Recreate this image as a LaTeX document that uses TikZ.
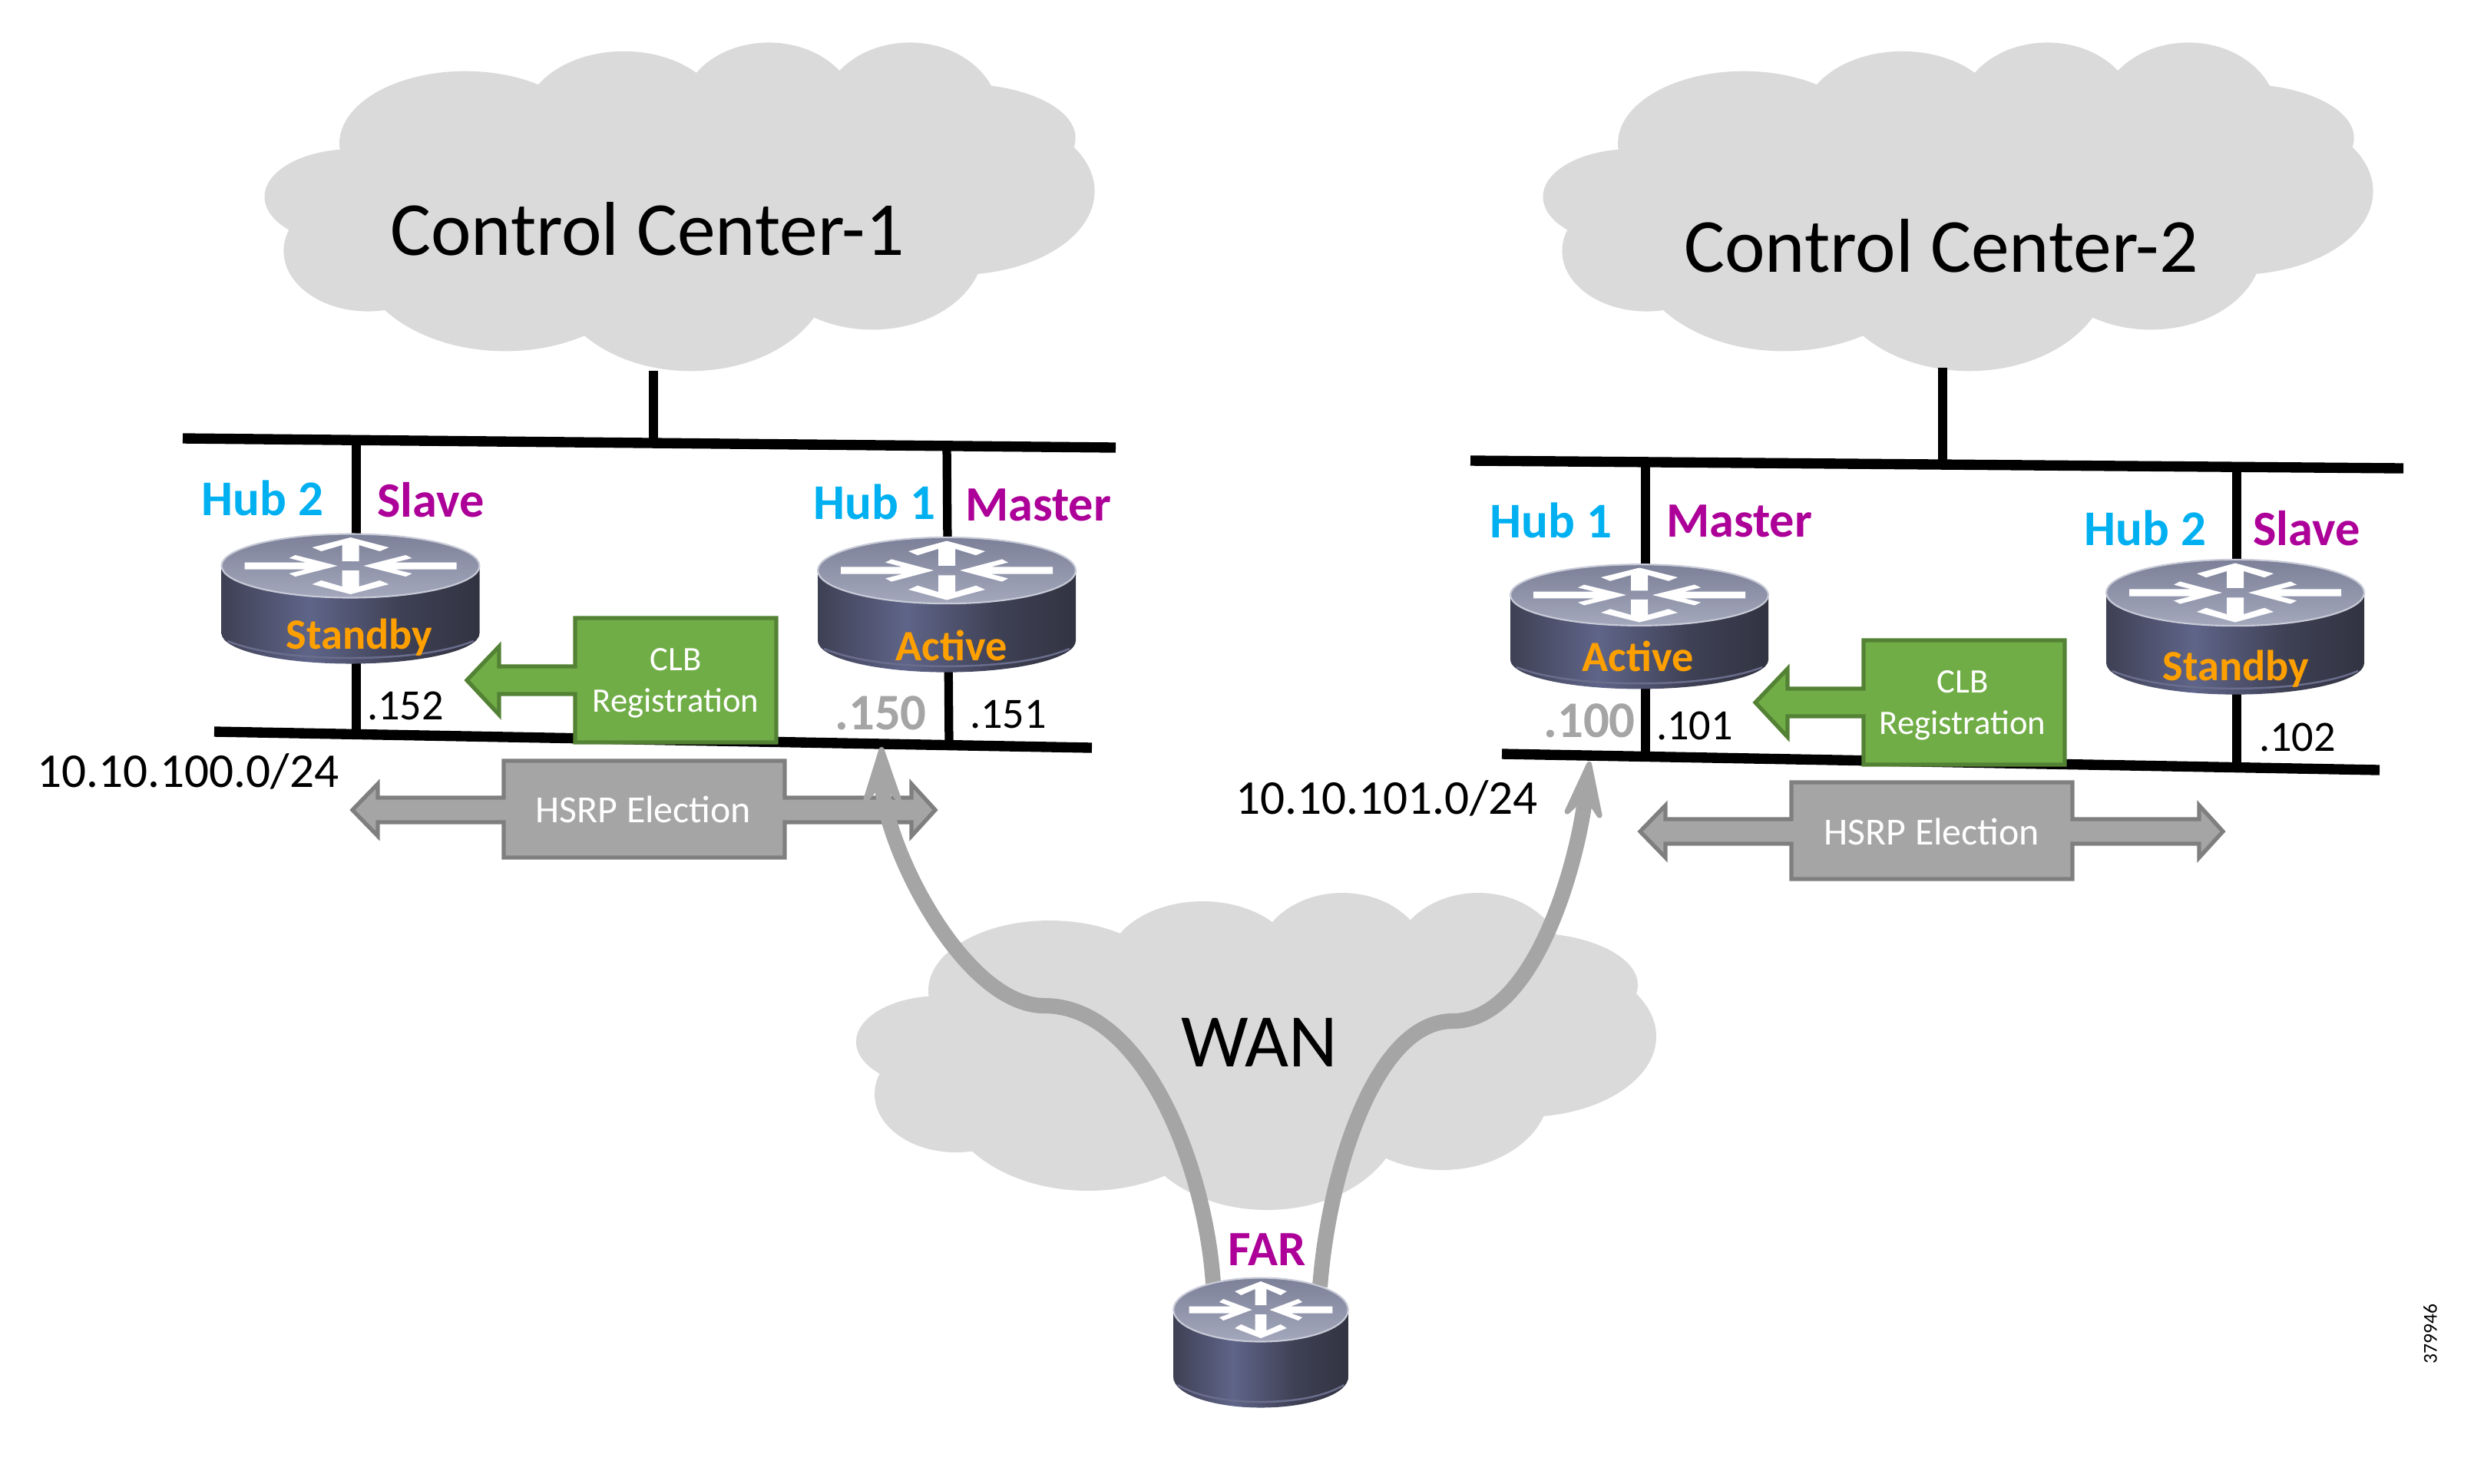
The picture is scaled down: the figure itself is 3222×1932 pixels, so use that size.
\documentclass[tikz,border=0pt]{standalone}
\usepackage{fontspec}
\setmainfont{Carlito}
\usetikzlibrary{arrows}
\usetikzlibrary{arrows.meta}
\definecolor{cloud_gray}{HTML}{DADADA}
\definecolor{hub_blue}{HTML}{00B0F0}
\definecolor{role_purple}{HTML}{AC0098}
\definecolor{state_orange}{HTML}{FFA000}
\definecolor{box_green}{HTML}{70AD47}
\definecolor{box_green_edge}{HTML}{548235}
\definecolor{box_gray}{HTML}{A5A5A5}
\definecolor{box_gray_edge}{HTML}{7F7F7F}
\definecolor{side_a}{HTML}{5A5E72}
\definecolor{side_b}{HTML}{3E4054}
\definecolor{side_c}{HTML}{5F6589}
\definecolor{side_d}{HTML}{2D2D39}
\definecolor{side_e}{HTML}{4E5060}
\definecolor{top_a}{HTML}{7C8098}
\definecolor{top_b}{HTML}{A4A8BC}
\definecolor{rim_low}{HTML}{6A6E8C}
\pgfdeclarehorizontalshading{router_side}{100bp}{
	color(0bp)=(side_a);
	color(8bp)=(side_b);
	color(25bp)=(side_b);
	color(42bp)=(side_c);
	color(60bp)=(side_b);
	color(82bp)=(side_d);
	color(94bp)=(side_d);
	color(100bp)=(side_e)
}
\tikzset{
	treetext/.style = {
		align=center,
		inner sep=0pt,
		text centered
	},
	node_big/.style = {
		treetext,
		font=\fontsize{28.3}{32}\selectfont
	},
	node_wan/.style = {
		treetext,
		font=\fontsize{28}{32}\selectfont
	},
	node_hub/.style = {
		treetext,
		hub_blue,
		font=\fontsize{18.5}{22}\selectfont\bfseries
	},
	node_role/.style = {
		treetext,
		role_purple,
		font=\fontsize{18.3}{22}\selectfont\bfseries
	},
	node_state/.style = {
		treetext,
		state_orange,
		font=\fontsize{16}{20}\selectfont\bfseries
	},
	node_addr/.style = {
		treetext,
		font=\fontsize{16}{20}\selectfont
	},
	node_vip/.style = {
		treetext,
		box_gray,
		font=\fontsize{19}{23}\selectfont\bfseries
	},
	node_subnet/.style = {
		treetext,
		font=\fontsize{18}{22}\selectfont
	},
	node_clb/.style = {
		treetext,
		white,
		font=\fontsize{12.7}{15.5}\selectfont
	},
	node_hsrp/.style = {
		treetext,
		white,
		font=\fontsize{14.2}{17}\selectfont
	},
	bar_thick/.style = {
		line width=3.8pt
	},
	bar_thin/.style = {
		line width=3.2pt
	},
	link_far/.style = {
		box_gray,
		line width=5.7pt,
		-{Stealth[length=26pt,width=17pt,inset=10pt,line width=2pt,round]}
	},
	cloud_pic/.pic = {
		\fill [cloud_gray]
			(-268,-84) ellipse [x radius=158, y radius=91]
			(-69,-114) ellipse [x radius=125, y radius=86]
			(113,-124) ellipse [x radius=110, y radius=87]
			(290,-119) ellipse [x radius=112, y radius=92]
			(355,-91) ellipse [x radius=143, y radius=68]
			(350,-24) ellipse [x radius=172, y radius=105]
			(243,46) ellipse [x radius=140, y radius=104]
			(15,76) ellipse [x radius=175, y radius=126]
			(-218,46) ellipse [x radius=190, y radius=131]
			(-390,51) ellipse [x radius=106, y radius=76]
			(-410,-17) ellipse [x radius=110, y radius=60]
			(0,0) ellipse [x radius=380, y radius=130];
	},
	router_pic/.pic = {
		\shade [shading=router_side]
			(-168,0) -- (-168,88) .. controls (-168,110) and (-92,127.5) .. (0,127.5)
			.. controls (92,127.5) and (168,110) .. (168,88) -- (168,0) -- cycle;
		\draw [rim_low, line width=0.7pt]
			(-160,98) .. controls (-120,114) and (-60,120) .. (0,120)
			.. controls (60,120) and (120,114) .. (160,98);
		\shade [top color=top_a, bottom color=top_b, draw=top_b!60!white, line width=0.6pt]
			(0,0) ellipse [x radius=168, y radius=41.5];
		\fill [white]
			(0,-37) -- (50,-24) -- (38,-19) -- (11,-27) -- (11,-6) -- (-11,-6) -- (-11,-27) -- (-38,-19) -- (-50,-24) -- cycle
			(0,37) -- (50,24) -- (38,19) -- (11,27) -- (11,6) -- (-11,6) -- (-11,27) -- (-38,19) -- (-50,24) -- cycle
			(-138,-4.5) -- (-58,-4.5) -- (-80,-10) -- (-72,-14) -- (-17,0) -- (-72,14) -- (-80,10) -- (-58,4.5) -- (-138,4.5) -- cycle
			(138,-4.5) -- (58,-4.5) -- (80,-10) -- (72,-14) -- (17,0) -- (72,14) -- (80,10) -- (58,4.5) -- (138,4.5) -- cycle;
	},
	clb_pic/.pic = {
		\filldraw [fill=box_green, draw=box_green_edge, line width=1.5pt]
			(749,805) -- (1011,805) -- (1011,967) -- (749,967) -- (749,904) -- (650,904) -- (650,931)
			-- (608,886) -- (650,842) -- (650,868) -- (749,868) -- cycle;
	},
	hsrp_pic/.pic = {
		\filldraw [fill=box_gray, draw=box_gray_edge, line width=1.5pt]
			(-183,-64) -- (183,-64) -- (183,-16) -- (348,-16) -- (348,-34) -- (379,0) -- (348,34) -- (348,16)
			-- (183,16) -- (183,62) -- (-183,62) -- (-183,16) -- (-347,16) -- (-347,34) -- (-380,0)
			-- (-347,-34) -- (-347,-16) -- (-183,-16) -- cycle;
	},
}
\begin{document}
\begin{tikzpicture}[x=0.01cm,y=-0.01cm]
\useasboundingbox (0,0) rectangle (3222,1932);
% clouds
\pic [xscale=1.0375,yscale=1.036] at (884,274) {cloud_pic};
\pic [xscale=1.0375,yscale=1.036] at (2549,274) {cloud_pic};
\pic at (1635,1374) {cloud_pic};
\node [node_big] (cc_one) at (843,298) {Control Center-1};
\node [node_big] (cc_two) at (2528,320) {Control Center-2};
\node [node_wan] (wan) at (1640,1358) {WAN};
% lan bars left
\coordinate (top_a_l) at (238,571);
\coordinate (top_a_r) at (1453,583);
\coordinate (low_a_l) at (279,953);
\coordinate (low_a_r) at (1422,974);
\coordinate (stub_a_t) at (851,483);
\coordinate (stub_a_b) at (851,576);
\coordinate (hub2a_t) at (464,575);
\coordinate (hub2a_b) at (464,960);
\coordinate (hub1a_t) at (1233,578);
\coordinate (hub1a_b) at (1236,972);
\draw [bar_thick] (top_a_l) -- (top_a_r);
\draw [bar_thick] (low_a_l) -- (low_a_r);
\draw [bar_thin] (stub_a_t) -- (stub_a_b);
\draw [bar_thin] (hub2a_t) -- (hub2a_b);
\draw [bar_thin] (hub1a_t) -- (hub1a_b);
% lan bars right
\coordinate (top_b_l) at (1915,600);
\coordinate (top_b_r) at (3130,610);
\coordinate (low_b_l) at (1956,982);
\coordinate (low_b_r) at (3099,1003);
\coordinate (stub_b_t) at (2530,479);
\coordinate (stub_b_b) at (2530,606);
\coordinate (hub1b_t) at (2143,602);
\coordinate (hub1b_b) at (2143,985);
\coordinate (hub2b_t) at (2913,606);
\coordinate (hub2b_b) at (2913,1000);
\draw [bar_thick] (top_b_l) -- (top_b_r);
\draw [bar_thick] (low_b_l) -- (low_b_r);
\draw [bar_thin] (stub_b_t) -- (stub_b_b);
\draw [bar_thin] (hub1b_t) -- (hub1b_b);
\draw [bar_thin] (hub2b_t) -- (hub2b_b);
% routers
\pic at (456.5,737) {router_pic};
\pic [yscale=1.04] at (1233,743) {router_pic};
\pic [yscale=0.96] at (2135,775) {router_pic};
\pic [yscale=1.04] at (2911,772) {router_pic};
% callouts
\pic at (0,0) {clb_pic};
\pic at (1678,29) {clb_pic};
\pic at (839,1055) {hsrp_pic};
\pic at (2516,1083) {hsrp_pic};
\node [node_clb] (clb_a) at (880,890) {CLB\\Registration};
\node [node_clb] (clb_b) at (2556,919) {CLB\\Registration};
\node [node_hsrp] (hsrp_a) at (838,1054) {HSRP Election};
\node [node_hsrp] (hsrp_b) at (2516,1083) {HSRP Election};
% far links
\coordinate (far_l) at (1580,1672);
\coordinate (far_r) at (1719,1676);
\coordinate (kink_l) at (1360,1310);
\coordinate (kink_r) at (1892,1330);
\coordinate (tip_l) at (1148,973);
\coordinate (tip_r) at (2070,992);
\draw [link_far] (far_l) .. controls (1570,1520) and (1490,1310) .. (kink_l)
	.. controls (1255,1310) and (1150,1100) .. (tip_l);
\draw [link_far] (far_r) .. controls (1730,1530) and (1790,1330) .. (kink_r)
	.. controls (2000,1330) and (2055,1120) .. (tip_r);
\pic [xscale=0.677] at (1642,1706) {router_pic};
% labels
\node [node_hub] (hub2a) at (342,649) {Hub 2};
\node [node_role] (slave_a) at (561,651) {Slave};
\node [node_hub] (hub1a) at (1139,654) {Hub 1};
\node [node_role] (master_a) at (1352,658) {Master};
\node [node_state] (standby_a) at (468,830) {Standby};
\node [node_state] (active_a) at (1239,841) {Active};
\node [node_addr] (addr_152) at (528,919) {.152};
\node [node_vip] (addr_150) at (1147,929) {.150};
\node [node_addr] (addr_151) at (1313,931) {.151};
\node [node_subnet] (net_a) at (245,1005) {10.10.100.0/24};
\node [node_hub] (hub1b) at (2020,678) {Hub 1};
\node [node_role] (master_b) at (2265,679) {Master};
\node [node_hub] (hub2b) at (2794,688) {Hub 2};
\node [node_role] (slave_b) at (3004,688) {Slave};
\node [node_state] (active_b) at (2133,855) {Active};
\node [node_state] (standby_b) at (2912,871) {Standby};
\node [node_vip] (addr_100) at (2070,939) {.100};
\node [node_addr] (addr_101) at (2207,945) {.101};
\node [node_addr] (addr_102) at (2992,960) {.102};
\node [node_subnet] (net_b) at (1806,1040) {10.10.101.0/24};
\node [node_role] (far) at (1650,1628) {FAR};
\node [treetext, font=\fontsize{7.3}{9}\selectfont, rotate=90] (fig_id) at (3165,1737) {379946};
\end{tikzpicture}
\end{document}
